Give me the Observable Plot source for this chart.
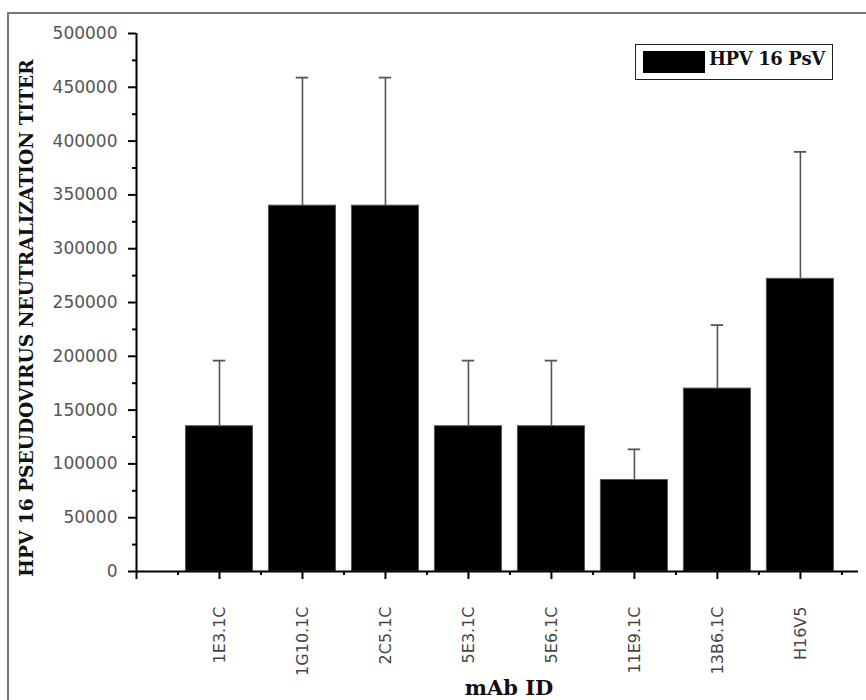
<!DOCTYPE html>
<html><head><meta charset="utf-8">
<script src="https://cdn.jsdelivr.net/npm/d3@7"></script>
<script src="https://cdn.jsdelivr.net/npm/@observablehq/plot@0.6"></script>
<style>
body{margin:0;background:#fff;}
#wrap{position:relative;width:866px;height:700px;overflow:hidden;background:#fff;}
#border{position:absolute;left:7px;top:12px;width:900px;height:800px;border-left:2px solid #777;border-top:2px solid #777;}
#chart{position:absolute;left:0;top:0;}
#legend{position:absolute;left:635px;top:44px;width:196px;height:34px;border:1.5px solid #222;background:#fff;}
#legend .sw{position:absolute;left:7px;top:6px;width:62px;height:22px;background:#000;}
#legend .lb{position:absolute;left:73px;top:3px;font-family:"DejaVu Serif",serif;font-weight:bold;font-size:18px;color:#111;white-space:nowrap;letter-spacing:-0.4px;}
</style></head>
<body>
<div id="wrap"><div id="border"></div><div id="chart"></div>
<div id="legend"><div class="sw"></div><div class="lb">HPV 16 PsV</div></div></div>
<script>
const categories = ["1E3.1C","1G10.1C","2C5.1C","5E3.1C","5E6.1C","11E9.1C","13B6.1C","H16V5"];
const titers = [135000,340000,340000,135000,135000,85000,170000,272000];
const errorTops = [196000,459000,459000,196000,196000,113500,229000,390000];
const yTicks = [0,50000,100000,150000,200000,250000,300000,350000,400000,450000,500000];
const yMinorTicks = [25000,75000,125000,175000,225000,275000,325000,375000,425000,475000];
const seriesName = "HPV 16 PsV";
const xTitle = "mAb ID";
const yTitle = "HPV 16 PSEUDOVIRUS NEUTRALIZATION TITER";

const rows = categories.map((c,i)=>({name:c,pos:i+1,value:titers[i],err:errorTops[i]}));
const xMajor = d3.range(0, categories.length + 1);
const xMinor = d3.range(0.5, categories.length + 1, 1);
const half = 0.404, capHalf = 0.075;

const plot = Plot.plot({
  width: 866, height: 700,
  marginLeft: 136, marginRight: 8, marginTop: 33, marginBottom: 129,
  style: {background: "transparent", overflow: "visible"},
  x: {type: "linear", domain: [0, 8.7]},
  y: {domain: [0, 500000]},
  marks: [
    Plot.ruleX(rows, {x: "pos", y1: "value", y2: "err", stroke: "#555", strokeWidth: 1.6}),
    Plot.ruleY(rows, {y: "err", x1: d => d.pos - capHalf, x2: d => d.pos + capHalf, stroke: "#555", strokeWidth: 1.8}),
    Plot.rectY(rows, {x1: d => d.pos - half, x2: d => d.pos + half, y1: 0, y2: "value", fill: "#000", stroke: "#555", strokeWidth: 1}),
    Plot.axisY(yTicks, {tickSize: 8, tickPadding: 11, tickFormat: d3.format("d"), fontSize: 17, fill: "#555", stroke: "#000", strokeWidth: 2, label: null, fontFamily: "DejaVu Sans"}),
    Plot.axisY(yMinorTicks, {tickSize: 4, tickFormat: () => "", stroke: "#000", strokeWidth: 2, label: null}),
    Plot.axisX(xMajor, {tickSize: 8, tickPadding: 27, tickRotate: -90, tickFormat: i => i === 0 ? "" : categories[i-1], fontSize: 16, fill: "#444", stroke: "#000", strokeWidth: 2, label: null, fontFamily: "DejaVu Sans"}),
    Plot.axisX(xMinor, {tickSize: 4, tickFormat: () => "", stroke: "#000", strokeWidth: 2, label: null}),
    Plot.ruleX([0], {y1: 0, y2: 500000, stroke: "#000", strokeWidth: 2}),
    Plot.ruleY([0], {x1: 0, x2: 8.7, stroke: "#000", strokeWidth: 2})
  ]
});
document.getElementById("chart").appendChild(plot);
const svg = d3.select(plot);
svg.append("text").text(xTitle)
  .attr("x", 509).attr("y", 695).attr("text-anchor","middle")
  .attr("font-family","DejaVu Serif").attr("font-weight","bold").attr("font-size",21).attr("fill","#111");
svg.append("text").text(yTitle)
  .attr("transform","translate(33,318) rotate(-90)").attr("text-anchor","middle")
  .attr("font-family","DejaVu Serif").attr("font-weight","bold").attr("font-size",18.6).attr("fill","#111");
</script>
</body></html>
